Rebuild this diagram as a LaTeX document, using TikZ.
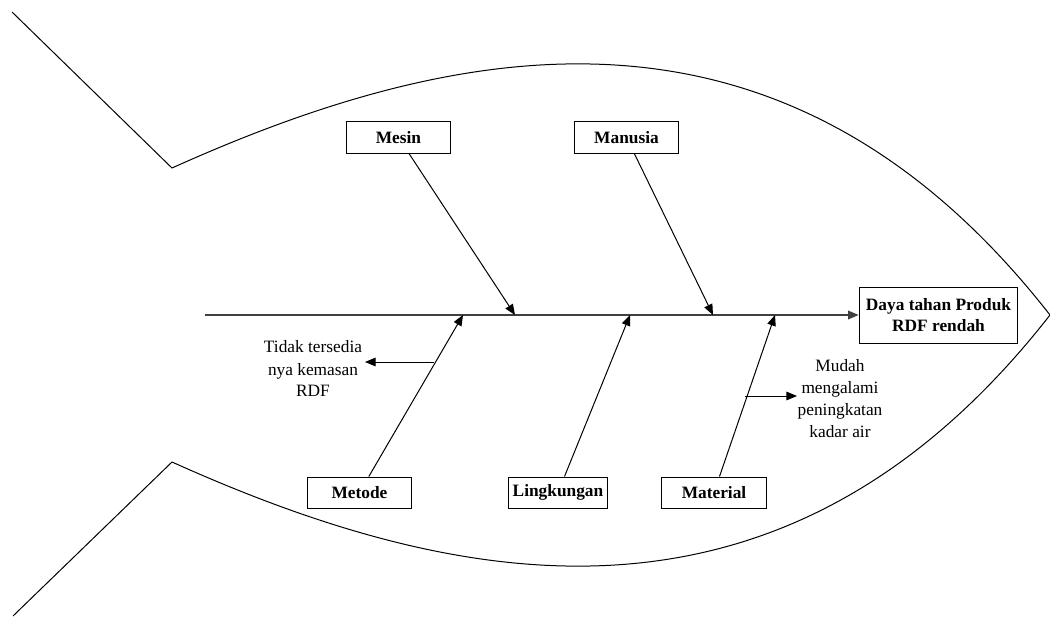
\documentclass[tikz,border=0pt]{standalone}
\usepackage{fontspec}
\setmainfont{Liberation Serif}
\usetikzlibrary{arrows.meta}

\tikzset{
    cause/.style={draw=black, line width=0.75pt, font=\bfseries\fontsize{13}{16}\selectfont, minimum width=78.5pt, minimum height=23.25pt, inner sep=3pt},
    note/.style={align=center, font=\fontsize{13}{16.5}\selectfont, inner sep=0pt},
    arr/.style={-{Triangle[length=8pt,width=6.5pt]}, line width=0.75pt}
}

\begin{document}
\begin{tikzpicture}[x=0.75pt, y=-0.75pt]
    \useasboundingbox (0,0) rectangle (1050,617);

    % Fish outline
    \draw[line width=0.75pt] (12,12) -- (172,168)
        .. controls (462,37.5) and (785,-24.2) .. (1050,315)
        .. controls (785,654.2) and (462,592.5) .. (172,462) -- (13,616);

    % Head and spine
    \node[draw=black, line width=0.75pt, align=center, font=\bfseries\fontsize{13}{16}\selectfont, minimum width=119pt, minimum height=42pt] (head) at (938.5,315) {Daya tahan Produk\\RDF rendah};
    \coordinate (tail) at (205,315);
    \draw[arr, black!75, line width=1.1pt] (tail) -- (head);

    % Causes
    \node[cause] (mesin) at (398.5,137.5) {Mesin};
    \node[cause] (manusia) at (626.5,137.5) {Manusia};
    \node[cause] (metode) at (359.5,492.5) {Metode};
    \node[cause, minimum width=73.5pt] (lingkungan) at (558,492.5) {Lingkungan};
    \node[cause] (material) at (714,492.5) {Material};

    \coordinate (s1) at (515,315);
    \coordinate (s2) at (713,315);
    \coordinate (s3) at (463,315);
    \coordinate (s4) at (630,315);
    \coordinate (s5) at (775,315);

    \draw[arr] (mesin) -- (s1);
    \draw[arr] (manusia) -- (s2);
    \draw[arr] (metode) -- (s3);
    \draw[arr] (lingkungan) -- (s4);
    \draw[arr] (material) -- (s5);

    % Sub causes
    \node[note] (kemasan) at (313,369) {Tidak tersedia\\nya kemasan\\RDF};
    \node[note] (kadar) at (840,399) {Mudah\\mengalami\\peningkatan\\kadar air};

    \coordinate (b1) at (433.5,362);
    \coordinate (e1) at (365,362);
    \coordinate (b2) at (745,396);
    \coordinate (e2) at (797,396);
    \draw[arr] (b1) -- (e1);
    \draw[arr] (b2) -- (e2);
\end{tikzpicture}
\end{document}
